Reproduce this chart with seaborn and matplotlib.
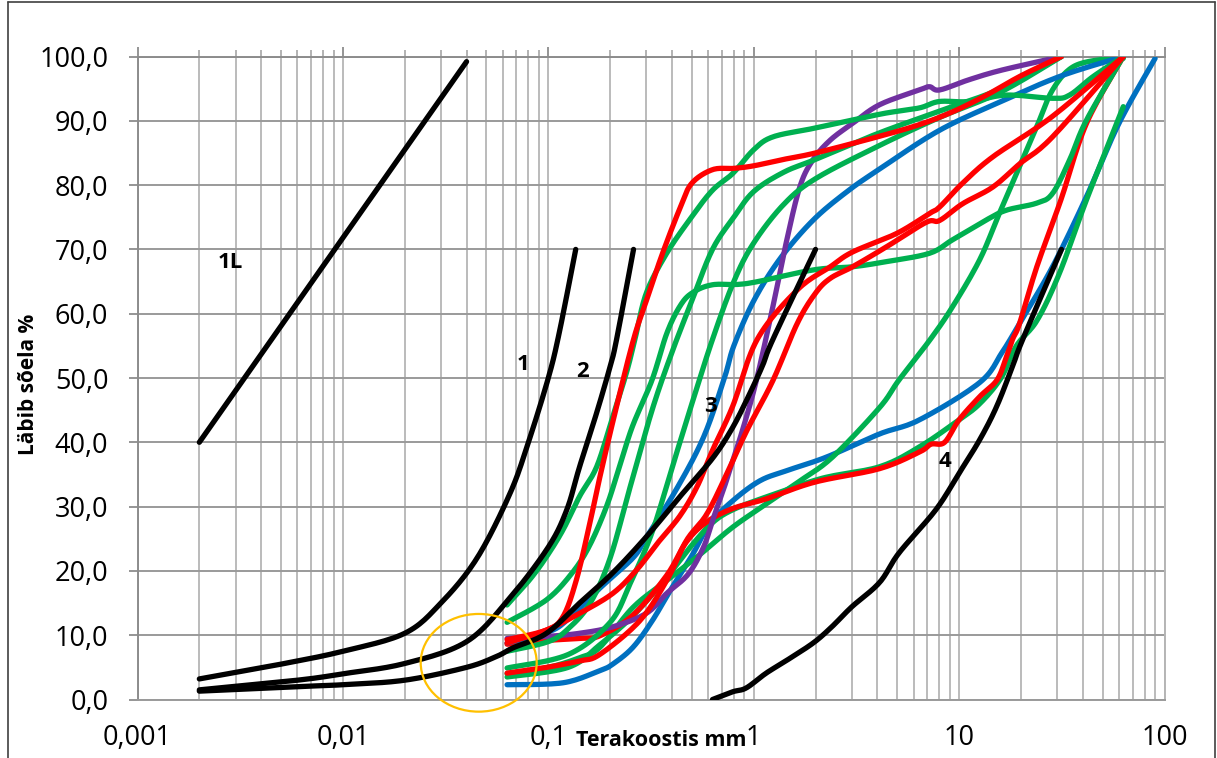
import numpy as np
import pandas as pd
import matplotlib
matplotlib.use("Agg")
import matplotlib.pyplot as plt
import seaborn as sns
from matplotlib.patches import Ellipse
from matplotlib.lines import Line2D
from matplotlib.ticker import FixedLocator, FixedFormatter, FuncFormatter

# ---------------- data (x = grain size mm, y = passing %) ----------------
BLACK_1L_X = [0.002, 0.04]
BLACK_1L_Y = [40.0, 99.2]
BLACK_1_X = [0.002, 0.005, 0.01, 0.02, 0.03, 0.045, 0.065, 0.08, 0.1, 0.113, 0.136]
BLACK_1_Y = [3.2, 5.5, 7.5, 10.3, 15.0, 22.0, 32.0, 40.0, 50.0, 57.0, 70.0]
BLACK_2_X = [0.002, 0.006, 0.01, 0.02, 0.04, 0.065, 0.1, 0.123, 0.142, 0.172, 0.2, 0.215, 0.26]
BLACK_2_Y = [1.5, 3.0, 4.0, 5.6, 9.0, 15.8, 23.7, 29.5, 36.2, 44.6, 51.8, 56.0, 70.0]
BLACK_3_X = [0.002, 0.006, 0.01, 0.02, 0.04, 0.056, 0.067, 0.098, 0.142, 0.206, 0.30, 0.436, 0.63, 0.78, 0.925, 1.1, 1.24, 2.0]
BLACK_3_Y = [1.3, 2.0, 2.3, 3.0, 5.0, 6.7, 8.0, 10.3, 15.0, 19.7, 25.3, 31.5, 37.5, 42.0, 46.6, 51.8, 56.0, 70.0]
BLACK_4_X = [0.63, 0.79, 0.92, 1.15, 1.45, 1.95, 2.4, 3.0, 4.1, 5.1, 7.7, 10.0, 12.6, 15.2, 18.2, 20.4, 31.5]
BLACK_4_Y = [0.0, 1.2, 1.8, 4.1, 6.1, 8.8, 11.3, 14.4, 18.2, 22.8, 29.5, 35.2, 40.4, 45.5, 51.8, 56.0, 70.0]

RED_A_X = [0.063, 0.098, 0.118, 0.137, 0.158, 0.18, 0.215, 0.26, 0.30, 0.36, 0.44, 0.5, 0.63, 0.8, 1.0, 1.4, 2.0, 4.0, 6.4, 9.3, 13.6, 20.0, 31.5]
RED_A_Y = [9.3, 10.8, 12.9, 18.6, 26.9, 35.2, 45.6, 56.0, 62.0, 69.4, 76.6, 80.3, 82.4, 82.6, 83.0, 84.0, 85.0, 87.5, 89.4, 91.4, 94.0, 97.0, 100.0]
RED_UM_X = [0.063, 0.098, 0.142, 0.206, 0.27, 0.34, 0.436, 0.53, 0.631, 0.79, 1.04, 1.63, 2.36, 3.03, 4.98, 7.18, 8.04, 10.4, 14.6, 28.5, 63.0]
RED_UM_Y = [8.8, 10.8, 13.4, 16.5, 20.2, 24.3, 28.5, 33.1, 38.8, 45.6, 56.0, 63.7, 67.3, 69.6, 72.5, 75.6, 76.6, 80.3, 84.4, 90.7, 100.0]
RED_LM_X = [0.063, 0.098, 0.142, 0.178, 0.278, 0.377, 0.47, 0.59, 0.74, 0.925, 1.24, 1.63, 2.0, 2.36, 3.03, 4.43, 6.9, 8.04, 10.4, 14.6, 19.7, 28.5, 63.0]
RED_LM_Y = [4.1, 5.0, 6.0, 7.0, 12.2, 18.5, 24.7, 28.8, 35.1, 41.8, 49.6, 58.5, 63.2, 65.5, 67.3, 70.4, 74.2, 74.5, 77.1, 79.7, 83.3, 87.5, 100.0]
RED_K_X = [0.063, 0.1, 0.142, 0.178, 0.258, 0.377, 0.47, 0.59, 0.79, 1.15, 1.98, 4.1, 6.42, 7.3, 8.5, 10.0, 12.6, 15.3, 17.0, 18.2, 19.7, 23.9, 31.3, 41.7, 63.0]
RED_K_Y = [8.6, 9.2, 9.5, 9.9, 13.1, 19.3, 24.5, 27.6, 29.7, 31.2, 33.8, 35.9, 38.5, 39.7, 40.0, 43.5, 47.1, 49.7, 53.3, 56.0, 58.5, 67.3, 77.7, 89.6, 100.0]

GREEN_B_X = [0.063, 0.081, 0.098, 0.118, 0.142, 0.172, 0.206, 0.24, 0.264, 0.30, 0.377, 0.5, 0.63, 0.79, 1.0, 1.24, 1.94, 3.0, 4.4, 6.4, 8.0, 11.2, 17.0, 28.5, 34.5, 45.0, 63.0]
GREEN_B_Y = [14.7, 18.6, 22.2, 26.4, 31.6, 36.2, 44.0, 50.8, 56.0, 63.2, 69.4, 75.1, 79.2, 81.8, 85.5, 87.5, 88.8, 90.1, 91.2, 92.0, 93.0, 93.0, 94.0, 93.5, 94.0, 96.9, 100.0]
GREEN_C_X = [0.063, 0.098, 0.13, 0.158, 0.192, 0.222, 0.257, 0.32, 0.377, 0.436, 0.5, 0.63, 0.93, 1.94, 3.03, 4.43, 7.18, 9.3, 13.6, 17.0, 23.9, 28.5, 34.5, 41.7, 63.0]
GREEN_C_Y = [12.0, 15.5, 19.6, 23.8, 30.0, 36.2, 42.5, 49.7, 56.9, 61.1, 63.2, 64.5, 64.7, 66.8, 67.3, 68.1, 69.4, 71.5, 74.6, 76.1, 77.2, 78.7, 83.9, 90.1, 100.0]
GREEN_D_X = [0.063, 0.1, 0.125, 0.16, 0.2, 0.25, 0.32, 0.4, 0.5, 0.63, 0.8, 1.0, 1.4, 2.0, 4.0, 8.0, 16.0, 31.5]
GREEN_D_Y = [7.5, 9.0, 11.0, 15.0, 22.0, 33.0, 45.0, 54.0, 62.0, 70.0, 75.0, 79.0, 82.0, 84.0, 88.0, 91.5, 95.0, 100.0]
GREEN_E_X = [0.063, 0.125, 0.2, 0.25, 0.32, 0.4, 0.5, 0.63, 0.8, 1.0, 1.4, 2.0, 4.0, 8.0, 16.0, 31.5]
GREEN_E_Y = [4.9, 7.0, 12.0, 18.0, 26.0, 36.0, 46.0, 56.0, 65.0, 71.0, 77.0, 81.0, 86.0, 90.5, 94.5, 100.0]
GREEN_K1_X = [0.063, 0.1, 0.142, 0.178, 0.258, 0.377, 0.55, 0.79, 1.15, 1.68, 2.42, 4.1, 5.1, 7.2, 9.3, 12.6, 15.7, 19.7, 23.9, 28.5, 35.9, 50.7, 63.0]
GREEN_K1_Y = [4.0, 5.0, 6.5, 8.1, 14.3, 18.5, 22.6, 26.8, 30.4, 34.0, 37.7, 45.4, 49.7, 55.9, 61.1, 68.4, 75.6, 82.9, 89.1, 94.8, 98.4, 99.6, 99.7]
GREEN_K3_X = [0.063, 0.125, 0.178, 0.258, 0.377, 0.5, 0.63, 0.79, 1.15, 2.15, 4.1, 6.42, 10.0, 12.6, 16.0, 19.0, 24.0, 30.8, 41.7, 63.0]
GREEN_K3_Y = [3.5, 5.0, 8.5, 13.0, 19.0, 24.0, 27.5, 29.5, 31.5, 34.4, 36.2, 39.3, 43.5, 46.0, 50.0, 55.0, 59.0, 66.3, 77.7, 92.2]

BLUE_F_X = [0.063, 0.1, 0.125, 0.178, 0.258, 0.30, 0.417, 0.57, 0.72, 0.8, 1.0, 1.34, 1.94, 2.85, 4.1, 8.0, 16.0, 31.5, 63.0]
BLUE_F_Y = [8.8, 10.5, 12.5, 17.3, 22.0, 25.2, 32.5, 40.8, 50.0, 55.0, 62.0, 68.5, 74.5, 79.0, 82.5, 88.5, 93.0, 97.0, 100.0]
BLUE_K_X = [0.063, 0.118, 0.178, 0.206, 0.258, 0.32, 0.40, 0.505, 0.61, 0.79, 1.07, 1.45, 2.26, 4.1, 6.42, 12.6, 16.2, 19.7, 28.5, 41.7, 60.0, 90.0]
BLUE_K_Y = [2.3, 2.6, 4.5, 5.5, 8.1, 12.2, 17.4, 22.6, 27.3, 30.9, 34.0, 35.6, 37.7, 41.3, 43.5, 49.3, 54.0, 58.5, 67.3, 78.2, 89.6, 99.7]

PURPLE_X = [0.063, 0.098, 0.142, 0.206, 0.30, 0.377, 0.48, 0.57, 0.63, 0.71, 0.79, 0.89, 1.03, 1.24, 1.45, 1.68, 1.94, 2.36, 3.03, 4.1, 6.42, 7.18, 8.04, 11.2, 16.2, 31.5]
PURPLE_Y = [9.5, 9.8, 10.3, 11.3, 13.4, 16.5, 19.5, 23.7, 27.8, 32.5, 37.1, 42.3, 49.6, 61.1, 71.5, 79.8, 83.9, 87.0, 89.6, 92.5, 94.8, 95.3, 94.8, 96.4, 97.9, 100.0]

CURVE_LABELS = ["1L", "1", "2", "3", "4"]
CURVE_LABEL_X = [0.00282, 0.0752, 0.147, 0.618, 8.5]
CURVE_LABEL_Y = [67.9, 52.1, 51.0, 45.5, 37.0]

Y_TICKS = [0, 10, 20, 30, 40, 50, 60, 70, 80, 90, 100]
X_TICKS = [0.001, 0.01, 0.1, 1, 10, 100]
X_TICK_LABELS = ["0,001", "0,01", "0,1", "1", "10", "100"]

RED, GREEN, BLUE, PURPLE, BLACK = "#FF0000", "#00B050", "#0070C0", "#7030A0", "#000000"

curves = [
    ("blue_k", BLUE_K_X, BLUE_K_Y, BLUE),
    ("green_k1", GREEN_K1_X, GREEN_K1_Y, GREEN),
    ("green_k3", GREEN_K3_X, GREEN_K3_Y, GREEN),
    ("red_k", RED_K_X, RED_K_Y, RED),
    ("blue_f", BLUE_F_X, BLUE_F_Y, BLUE),
    ("purple", PURPLE_X, PURPLE_Y, PURPLE),
    ("green_e", GREEN_E_X, GREEN_E_Y, GREEN),
    ("green_d", GREEN_D_X, GREEN_D_Y, GREEN),
    ("green_c", GREEN_C_X, GREEN_C_Y, GREEN),
    ("green_b", GREEN_B_X, GREEN_B_Y, GREEN),
    ("red_lm", RED_LM_X, RED_LM_Y, RED),
    ("red_um", RED_UM_X, RED_UM_Y, RED),
    ("red_a", RED_A_X, RED_A_Y, RED),
    ("black_1l", BLACK_1L_X, BLACK_1L_Y, BLACK),
    ("black_1", BLACK_1_X, BLACK_1_Y, BLACK),
    ("black_2", BLACK_2_X, BLACK_2_Y, BLACK),
    ("black_3", BLACK_3_X, BLACK_3_Y, BLACK),
    ("black_4", BLACK_4_X, BLACK_4_Y, BLACK),
]


def smooth(xs, ys, n=14):
    """Excel-like smoothed line (Catmull-Rom Bezier) in log-x display space."""
    u = np.log10(np.asarray(xs, float)) * 205.5
    v = np.asarray(ys, float) * 6.425
    P = np.column_stack([u, v])
    if len(P) < 3:
        return np.asarray(xs, float), np.asarray(ys, float)
    ext = np.vstack([P[0], P, P[-1]])
    t = np.linspace(0, 1, n, endpoint=False)[:, None]
    out = []
    for i in range(len(P) - 1):
        p0, p1, p2, p3 = ext[i], ext[i + 1], ext[i + 2], ext[i + 3]
        c1 = p1 + (p2 - p0) / 6.0
        c2 = p2 - (p3 - p1) / 6.0
        b = (1 - t) ** 3 * p1 + 3 * (1 - t) ** 2 * t * c1 + 3 * (1 - t) * t ** 2 * c2 + t ** 3 * p2
        out.append(b)
    out.append(P[-1:])
    B = np.vstack(out)
    return 10 ** (B[:, 0] / 205.5), B[:, 1] / 6.425


rows = []
for name, xs, ys, col in curves:
    sx, sy = smooth(xs, ys)
    for i, (a, b) in enumerate(zip(sx, sy)):
        rows.append((name, i, a, b))
df = pd.DataFrame(rows, columns=["curve", "order", "x", "y"])
palette = {name: col for name, _, _, col in curves}
order = [c[0] for c in curves]

# ---------------- figure ----------------
sns.set_theme(style="white")
plt.rcParams["font.family"] = ["Open Sans", "DejaVu Sans"]

fig = plt.figure(figsize=(12.17, 7.58), dpi=100)
ax = fig.add_axes([137.5 / 1217, 1 - 699.5 / 758, 1027 / 1217, 643 / 758])
ax.set_xscale("log")
ax.set_xlim(0.001, 100)
ax.set_ylim(0, 100)

# grid
ax.xaxis.set_major_locator(FixedLocator(X_TICKS))
minor = [m * 10.0 ** e for e in range(-3, 2) for m in range(2, 10)]
ax.xaxis.set_minor_locator(FixedLocator(minor))
ax.xaxis.set_major_formatter(FixedFormatter(X_TICK_LABELS))
ax.xaxis.set_minor_formatter(FuncFormatter(lambda v, p: ""))
ax.yaxis.set_major_locator(FixedLocator(Y_TICKS))
ax.yaxis.set_major_formatter(FuncFormatter(lambda v, p: f"{v:.1f}".replace(".", ",")))

ax.grid(True, which="major", axis="y", color="#9a9a9a", lw=1.4, zorder=0)
ax.grid(True, which="both", axis="x", color="#b5b5b5", lw=1.3, zorder=0)
ax.set_axisbelow(True)

for side in ["left", "right", "top", "bottom"]:
    ax.spines[side].set_visible(True)
    ax.spines[side].set_linewidth(1.4)
ax.spines["left"].set_color("#8c8c8c")
ax.spines["top"].set_color("#8c8c8c")
ax.spines["right"].set_color("#b5b5b5")
ax.spines["bottom"].set_color("#9a9a9a")

ax.tick_params(axis="x", which="major", bottom=False, top=True, labelbottom=True, labeltop=False,
               direction="out", length=7.5, width=1.3, color="#8c8c8c", labelsize=19.5, pad=10,
               labelcolor="black")
ax.tick_params(axis="x", which="minor", bottom=False, top=True, direction="out", length=5,
               width=1.2, color="#a6a6a6")
ax.tick_params(axis="y", which="major", left=True, direction="out", length=6.5, width=1.3,
               color="#8c8c8c", labelsize=19.5, pad=14.5, labelcolor="black")

sns.lineplot(data=df, x="x", y="y", hue="curve", hue_order=order, palette=palette,
             units="curve", estimator=None, sort=False, legend=False, ax=ax,
             lw=3.8, solid_capstyle="round", solid_joinstyle="round", zorder=3)

for t, lx, ly in zip(CURVE_LABELS, CURVE_LABEL_X, CURVE_LABEL_Y):
    ax.text(lx, ly, t, ha="center", va="center", fontsize=16, fontweight="bold", color="black", zorder=5)

ell = Ellipse((341.2 / 1027, 36.7 / 643), width=116 / 1027, height=97.7 / 643,
              transform=ax.transAxes, fill=False, ec="#FFC000", lw=1.6, clip_on=False, zorder=6)
ax.add_patch(ell)

ax.set_xlabel("Terakoostis mm", fontsize=15.5, fontweight="bold", color="black")
ax.xaxis.set_label_coords((661 - 137.5) / 1027, (699.5 - 741) / 643)
ax.xaxis.label.set_va("center")
ax.set_ylabel("Läbib sõela %", fontsize=15, fontweight="bold", color="black")
ax.yaxis.set_label_coords((28 - 137.5) / 1027, 0.49)
ax.yaxis.label.set_va("center")
ax.yaxis.label.set_ha("center")

# outer chart-area border
for (x0, y0, x1, y1) in [(7.5, 1.5, 7.5, 770), (1214.5, 1.5, 1214.5, 770), (7.5, 1.5, 1214.5, 1.5)]:
    fig.add_artist(Line2D([x0 / 1217, x1 / 1217], [1 - y0 / 758, 1 - y1 / 758],
                          transform=fig.transFigure, color="#404040", lw=1.2))

fig.savefig("out.png", dpi=100)
